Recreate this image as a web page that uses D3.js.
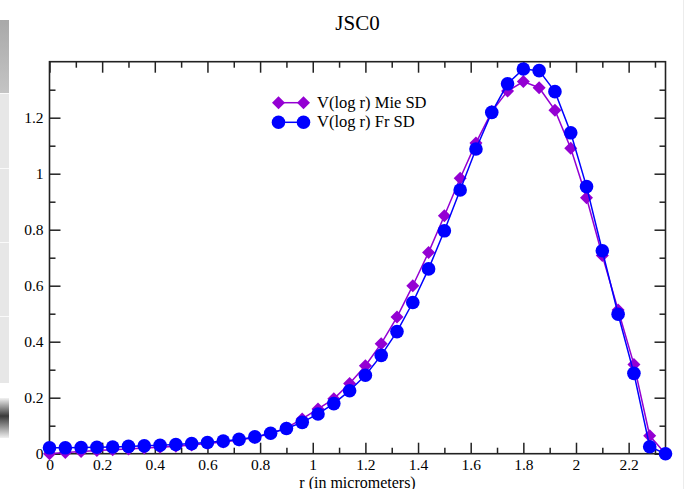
<!DOCTYPE html>
<html>
<head>
<meta charset="utf-8">
<script src="https://cdn.jsdelivr.net/npm/d3@7"></script>
<style>
  body { margin: 0; background: #fff; }
  svg { display: block; }
  text { font-family: "Liberation Serif", "Times New Roman", serif; fill: #000; }
</style>
</head>
<body>
<svg id="chart" width="684" height="489"></svg>
<script>
// Radius grid (micrometers)
const radius = [0, 0.06, 0.12, 0.18, 0.24, 0.30, 0.36, 0.42, 0.48, 0.54,
  0.60, 0.66, 0.72, 0.78, 0.84, 0.90, 0.96, 1.02, 1.08, 1.14,
  1.20, 1.26, 1.32, 1.38, 1.44, 1.50, 1.56, 1.62, 1.68, 1.74,
  1.80, 1.86, 1.92, 1.98, 2.04, 2.10, 2.16, 2.22, 2.28, 2.34];

// V(log r), Mie size distribution
const mieSD = [0.000, 0.004, 0.008, 0.011, 0.014, 0.017, 0.020, 0.023, 0.027, 0.031,
  0.036, 0.042, 0.049, 0.058, 0.072, 0.092, 0.124, 0.160, 0.196, 0.251,
  0.314, 0.393, 0.488, 0.600, 0.719, 0.850, 0.984, 1.110, 1.222, 1.295,
  1.329, 1.307, 1.227, 1.091, 0.914, 0.708, 0.513, 0.319, 0.064, 0.000];

// V(log r), Fr size distribution
const frSD = [0.021, 0.021, 0.022, 0.023, 0.024, 0.026, 0.028, 0.030, 0.033, 0.036,
  0.040, 0.045, 0.051, 0.060, 0.073, 0.090, 0.112, 0.142, 0.179, 0.225,
  0.280, 0.351, 0.436, 0.540, 0.660, 0.796, 0.942, 1.088, 1.219, 1.321,
  1.374, 1.368, 1.293, 1.146, 0.954, 0.725, 0.498, 0.287, 0.025, 0.000];

const xMajorTicks = [0, 0.2, 0.4, 0.6, 0.8, 1, 1.2, 1.4, 1.6, 1.8, 2, 2.2];
const xMinorTicks = [0.1, 0.3, 0.5, 0.7, 0.9, 1.1, 1.3, 1.5, 1.7, 1.9, 2.1, 2.3];
const yMajorTicks = [0, 0.2, 0.4, 0.6, 0.8, 1, 1.2];
const yMinorTicks = [0.1, 0.3, 0.5, 0.7, 0.9, 1.1, 1.3];

const seriesNames = ["V(log r) Mie SD", "V(log r) Fr SD"];
const titleText = "JSC0";
const xLabel = "r (in micrometers)";

const svg = d3.select("#chart");
const W = 684, H = 489;
const plot = { left: 49.5, right: 665.5, top: 61.7, bottom: 453.7 };

// Edge strips of the window behind the plot
const defs = svg.append("defs");
const smudge = defs.append("linearGradient")
  .attr("id", "smudge").attr("x1", 0).attr("y1", 0).attr("x2", 0).attr("y2", 1);
smudge.append("stop").attr("offset", "0%").attr("stop-color", "#f2f2f2");
smudge.append("stop").attr("offset", "45%").attr("stop-color", "#3a3a3a");
smudge.append("stop").attr("offset", "100%").attr("stop-color", "#f0f0f0");
const topGrad = defs.append("linearGradient")
  .attr("id", "topStrip").attr("x1", 0).attr("y1", 0).attr("x2", 0).attr("y2", 1);
topGrad.append("stop").attr("offset", "0%").attr("stop-color", "#a9a9a9");
topGrad.append("stop").attr("offset", "100%").attr("stop-color", "#c4c4c4");

svg.append("rect").attr("x", 0).attr("y", 20).attr("width", 9).attr("height", 73).attr("fill", "url(#topStrip)");
svg.append("rect").attr("x", 0).attr("y", 93).attr("width", 9).attr("height", 290).attr("fill", "#e7e7e7");
[93, 168, 242, 316].forEach(y => {
  svg.append("rect").attr("x", 0).attr("y", y).attr("width", 9).attr("height", 1).attr("fill", "#fafafa");
});
svg.append("rect").attr("x", 0).attr("y", 398).attr("width", 9).attr("height", 40).attr("fill", "url(#smudge)");
svg.append("rect").attr("x", 683).attr("y", 0).attr("width", 1).attr("height", H).attr("fill", "#ececec");

const x = d3.scaleLinear().domain([0, 2.34]).range([plot.left, plot.right]);
const y = d3.scaleLinear().domain([0, 1.4]).range([plot.bottom, plot.top]);

const fmt = d3.format("~g");
const MAJOR = 11, MINOR = 6;

function styleAxis(g) {
  g.select(".domain").remove();
  g.selectAll(".tick line").attr("stroke", "#222").attr("stroke-width", 1.5);
  g.selectAll(".tick text").attr("font-size", 15.5).attr("fill", "#000")
    .style("font-family", '"Liberation Serif", "Times New Roman", serif');
}

// Bottom axis
svg.append("g").attr("transform", `translate(0,${plot.bottom})`)
  .call(d3.axisBottom(x).tickValues(xMajorTicks).tickFormat(fmt).tickSize(-MAJOR).tickPadding(5))
  .call(styleAxis);
svg.append("g").attr("transform", `translate(0,${plot.bottom})`)
  .call(d3.axisBottom(x).tickValues(xMinorTicks).tickFormat("").tickSize(-MINOR))
  .call(styleAxis);
// Top axis
svg.append("g").attr("transform", `translate(0,${plot.top})`)
  .call(d3.axisTop(x).tickValues(xMajorTicks).tickFormat("").tickSize(-MAJOR))
  .call(styleAxis);
svg.append("g").attr("transform", `translate(0,${plot.top})`)
  .call(d3.axisTop(x).tickValues(xMinorTicks).tickFormat("").tickSize(-MINOR))
  .call(styleAxis);
// Left axis
svg.append("g").attr("transform", `translate(${plot.left},0)`)
  .call(d3.axisLeft(y).tickValues(yMajorTicks).tickFormat(fmt).tickSize(-MAJOR).tickPadding(6))
  .call(styleAxis);
svg.append("g").attr("transform", `translate(${plot.left},0)`)
  .call(d3.axisLeft(y).tickValues(yMinorTicks).tickFormat("").tickSize(-MINOR))
  .call(styleAxis);
// Right axis
svg.append("g").attr("transform", `translate(${plot.right},0)`)
  .call(d3.axisRight(y).tickValues(yMajorTicks).tickFormat("").tickSize(-MAJOR))
  .call(styleAxis);
svg.append("g").attr("transform", `translate(${plot.right},0)`)
  .call(d3.axisRight(y).tickValues(yMinorTicks).tickFormat("").tickSize(-MINOR))
  .call(styleAxis);

// Frame
svg.append("rect")
  .attr("x", plot.left).attr("y", plot.top)
  .attr("width", plot.right - plot.left).attr("height", plot.bottom - plot.top)
  .attr("fill", "none").attr("stroke", "#222").attr("stroke-width", 1.6);

// Title and axis label
svg.append("text").attr("x", (plot.left + plot.right) / 2).attr("y", 30)
  .attr("text-anchor", "middle").attr("font-size", 21).text(titleText);
svg.append("text").attr("x", (plot.left + plot.right) / 2).attr("y", 487.5)
  .attr("text-anchor", "middle").attr("font-size", 16).text(xLabel);

const VIOLET = "#9400d3", BLUE = "#0000ff";
const diamond = s => `M0,${-s}L${s},0L0,${s}L${-s},0Z`;

const line = d3.line().x((d, i) => x(radius[i])).y(d => y(d));

// Mie series: line + diamonds
svg.append("path").datum(mieSD).attr("d", line)
  .attr("fill", "none").attr("stroke", VIOLET).attr("stroke-width", 1.5);
svg.append("g").selectAll("path").data(mieSD).join("path")
  .attr("transform", (d, i) => `translate(${x(radius[i])},${y(d)})`)
  .attr("d", diamond(6.5)).attr("fill", VIOLET);

// Fr series: line + circles
svg.append("path").datum(frSD).attr("d", line)
  .attr("fill", "none").attr("stroke", BLUE).attr("stroke-width", 1.5);
svg.append("g").selectAll("circle").data(frSD).join("circle")
  .attr("cx", (d, i) => x(radius[i])).attr("cy", d => y(d))
  .attr("r", 6.8).attr("fill", BLUE);

// Legend
const legend = svg.append("g");
const rows = [
  { name: seriesNames[0], color: VIOLET, shape: "diamond", y: 102.7 },
  { name: seriesNames[1], color: BLUE, shape: "circle", y: 122.3 }
];
rows.forEach(r => {
  legend.append("line").attr("x1", 278.5).attr("x2", 303.5).attr("y1", r.y).attr("y2", r.y)
    .attr("stroke", r.color).attr("stroke-width", 1.5);
  [278.5, 303.5].forEach(cx => {
    if (r.shape === "diamond") {
      legend.append("path").attr("transform", `translate(${cx},${r.y})`)
        .attr("d", diamond(6.5)).attr("fill", r.color);
    } else {
      legend.append("circle").attr("cx", cx).attr("cy", r.y).attr("r", 6.8).attr("fill", r.color);
    }
  });
  legend.append("text").attr("x", 317).attr("y", r.y + 5).attr("font-size", 16.5).text(r.name);
});
</script>
</body>
</html>
